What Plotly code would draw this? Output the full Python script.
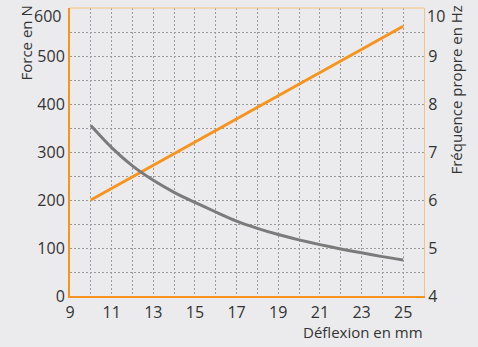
import plotly.graph_objects as go

# Deflection (mm) and the two measured characteristics
deflection_force = [10, 25]
force_n = [200, 562]

deflection_freq = [10, 11, 12, 13, 14, 15, 16, 17, 18, 19, 20, 21, 22, 23, 24, 25]
freq_hz = [7.55, 7.09, 6.71, 6.41, 6.16, 5.95, 5.75, 5.56, 5.41, 5.28, 5.17, 5.07, 4.98, 4.90, 4.82, 4.75]

x_ticks = [9, 11, 13, 15, 17, 19, 21, 23, 25]
y_left_ticks = [0, 100, 200, 300, 400, 500, 600]
y_right_ticks = [4, 5, 6, 7, 8, 9, 10]

BG = "#ebebed"
ORANGE = "#f7941d"
ORANGE_LIGHT = "#f8c27f"
GREY_LINE = "#7b7b7b"
GRID = "#9c9c9c"
TEXT = "#333333"
FONT = "Open Sans"
TICK_SIZE = 16
TITLE_SIZE = 15

fig = go.Figure()

fig.add_trace(go.Scatter(
    x=deflection_freq, y=freq_hz, mode="lines", yaxis="y2",
    line=dict(color=GREY_LINE, width=3, shape="spline", smoothing=0.8),
    hoverinfo="skip", showlegend=False,
))
fig.add_trace(go.Scatter(
    x=deflection_force, y=force_n, mode="lines",
    line=dict(color=ORANGE, width=3),
    hoverinfo="skip", showlegend=False,
))

grid_style = dict(gridcolor=GRID, gridwidth=1, griddash="2px,2px")

# The topmost labels of both value axes sit just inside the page edge,
# so they are written as annotations nudged slightly downwards.
top_left = y_left_ticks[-1]
top_right = y_right_ticks[-1]

fig.update_layout(
    width=478, height=347,
    margin=dict(l=70, r=54, t=8, b=51),
    paper_bgcolor=BG, plot_bgcolor=BG,
    font=dict(family=FONT, size=TICK_SIZE, color=TEXT),
    xaxis=dict(
        range=[9, 26], tickvals=x_ticks, automargin=False,
        showgrid=False, zeroline=False,
        showline=True, linecolor=ORANGE, linewidth=2,
        ticks="", ticklabelstandoff=1, ticklabeloverflow="allow",
        minor=dict(dtick=1, tick0=9, showgrid=True, ticks="", **grid_style),
    ),
    yaxis=dict(
        range=[0, top_left], tickvals=y_left_ticks[:-1], automargin=False,
        showgrid=False, zeroline=False,
        showline=True, linecolor=ORANGE, linewidth=2,
        ticks="", ticklabelstandoff=0, ticklabeloverflow="allow",
        minor=dict(dtick=50, tick0=0, showgrid=True, ticks="", **grid_style),
    ),
    yaxis2=dict(
        range=[4, top_right], tickvals=y_right_ticks[:-1], automargin=False,
        overlaying="y", side="right",
        showgrid=False, zeroline=False,
        showline=True, linecolor=ORANGE_LIGHT, linewidth=1,
        ticks="", ticklabeloverflow="allow",
    ),
    shapes=[dict(
        type="line", xref="paper", yref="paper", x0=0, x1=1, y0=1, y1=1,
        line=dict(color=ORANGE_LIGHT, width=1),
    )],
    annotations=[
        dict(text=str(top_left), xref="paper", yref="paper",
             x=0, y=1, xshift=-7, yshift=-8,
             xanchor="right", yanchor="middle", showarrow=False,
             font=dict(size=TICK_SIZE, color=TEXT, family=FONT)),
        dict(text=str(top_right), xref="paper", yref="paper",
             x=1, y=1, xshift=1, yshift=-8,
             xanchor="left", yanchor="middle", showarrow=False,
             font=dict(size=TICK_SIZE, color=TEXT, family=FONT)),
        dict(text="Force en N", xref="paper", yref="paper",
             x=0, y=1, xshift=-45, yshift=4, textangle=-90,
             xanchor="center", yanchor="top", showarrow=False,
             font=dict(size=TITLE_SIZE, color=TEXT, family=FONT)),
        dict(text="Fréquence propre en Hz", xref="paper", yref="paper",
             x=1, y=1, xshift=31, yshift=4, textangle=-90,
             xanchor="center", yanchor="top", showarrow=False,
             font=dict(size=TITLE_SIZE, color=TEXT, family=FONT)),
        dict(text="Déflexion en mm", xref="paper", yref="paper",
             x=1, y=0, xshift=1, yshift=-36,
             xanchor="right", yanchor="middle", showarrow=False,
             font=dict(size=TITLE_SIZE, color=TEXT, family=FONT)),
    ],
)

fig.write_html("out.html")
